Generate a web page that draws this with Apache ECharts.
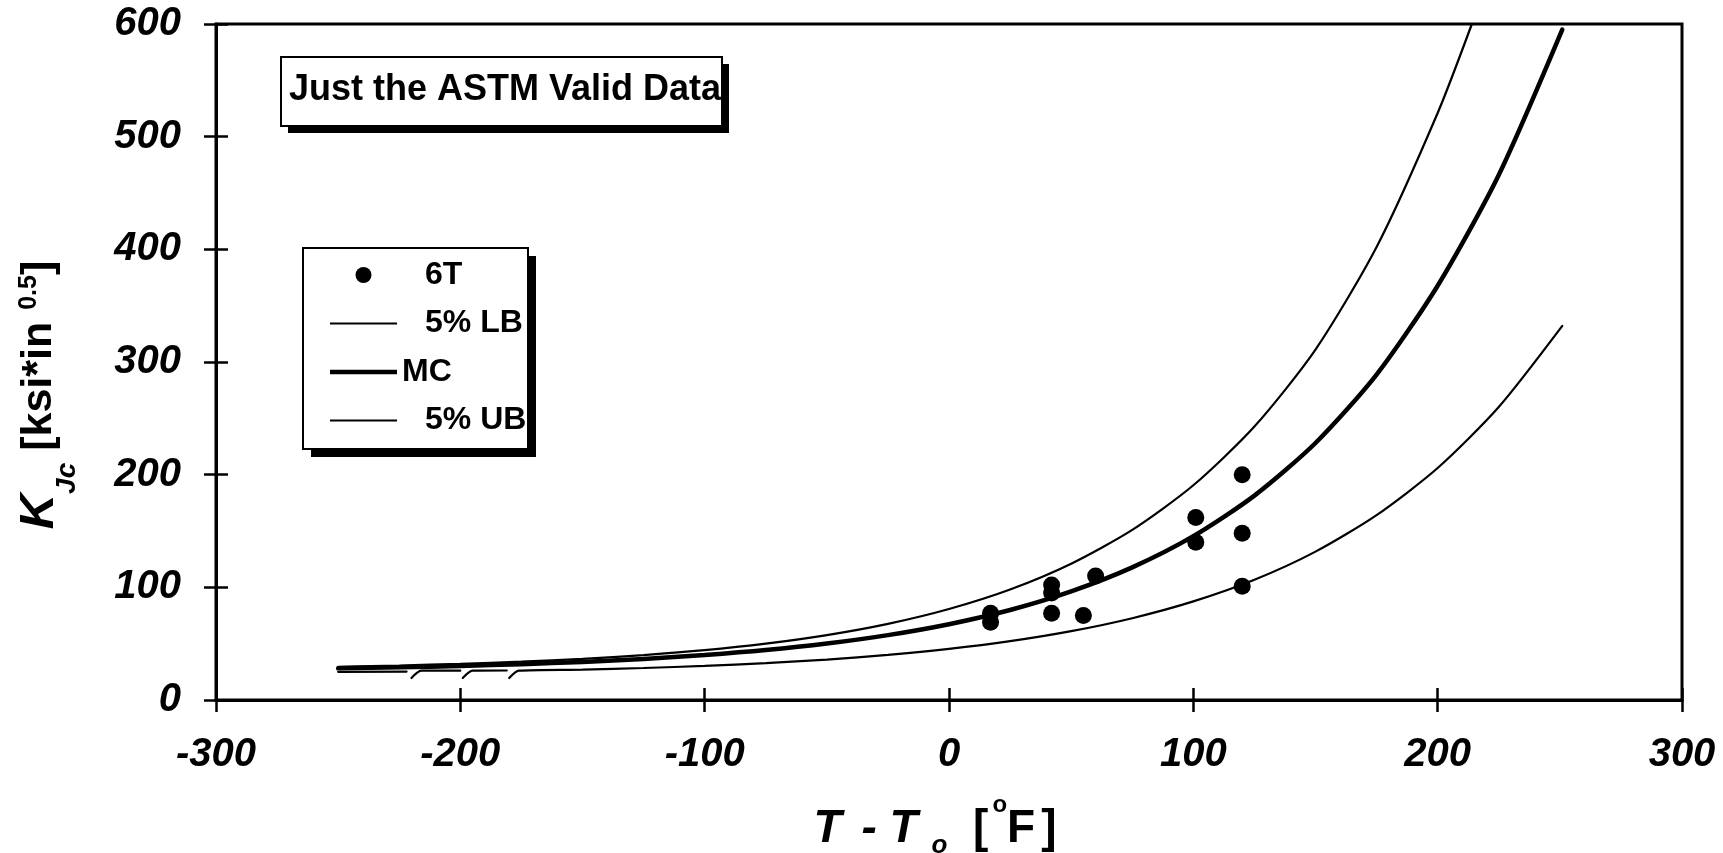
<!DOCTYPE html>
<html>
<head>
<meta charset="utf-8">
<script src="https://cdn.jsdelivr.net/npm/echarts@6/dist/echarts.min.js"></script>
<style>
  html, body { margin: 0; padding: 0; background: #ffffff; }
  #chart { width: 1723px; height: 853px; }
</style>
</head>
<body>
<div id="chart"></div>
<script>
// KJc fracture toughness of 6T specimens against T - To, with the master curve and its bounds

// axis ranges
const xRange = { min: -300, max: 300, step: 100 };
const yRange = { min: 0, max: 600, step: 100 };

// measured toughness, 6T specimens  [T - To (F), KJc]
const specimen6T = [
  [17, 77], [17, 69],
  [42, 102], [42, 95], [42, 77],
  [55, 75], [60, 110],
  [101, 162], [101, 140],
  [120, 200], [120, 148], [120, 101]
];

// median master curve
const masterCurve = [
  [-250, 28.1], [-225, 29.0], [-200, 30.2], [-175, 31.8], [-150, 33.8], [-125, 36.4],
  [-100, 39.9], [-75, 44.3], [-50, 50.1], [-25, 57.6], [0, 67.3], [25, 79.9],
  [50, 96.4], [75, 117.7], [100, 145.4], [125, 181.4], [150, 228.1], [175, 288.8],
  [200, 367.7], [225, 466], [251, 595]
];

// upper tolerance bound
const upperBound = [
  [-250, 29.5], [-225, 30.6], [-200, 32.1], [-175, 34.0], [-150, 36.5], [-125, 39.9],
  [-100, 44.2], [-75, 50.0], [-50, 57.6], [-25, 67.6], [0, 80.8], [25, 98.1],
  [50, 121], [75, 151], [100, 190.6], [125, 242.7], [150, 311], [175, 402],
  [200, 521], [214, 600]
];

// lower tolerance bound ('-' breaks the line where it restarts)
const lowerBound = [
  [-250, 25.0], [-222, 25.2], [-221, '-'],
  [-220, 19.5], [-216, 26.0], [-200, 26.0], [-199.5, '-'],
  [-199, 19.5], [-195, 26.0], [-181, 26.2], [-180.5, '-'],
  [-180, 19.5], [-176, 26.0], [-150, 26.9], [-125, 28.4], [-100, 30.3],
  [-75, 32.7], [-50, 35.9], [-25, 40.0], [0, 45.3], [25, 52.2], [50, 61.1],
  [75, 72.6], [100, 87.5], [125, 106.7], [150, 131.7], [175, 164.1],
  [200, 205.9], [225, 260], [251, 332]
];

const seriesNames = ['6T', '5% LB', 'MC', '5% UB'];
const titleText = 'Just the ASTM Valid Data';

const FONT = 'Liberation Sans, Arial, sans-serif';
const INK = '#000000';

const chart = echarts.init(document.getElementById('chart'), null, { renderer: 'canvas' });

const tickLabel = {
  fontFamily: FONT, fontSize: 40, fontWeight: 'bold', fontStyle: 'italic', color: INK, margin: 35
};

function boxWithShadow(x, y, w, h, off) {
  return [
    { type: 'rect', z: 3, shape: { x: x + off, y: y + off, width: w, height: h },
      style: { fill: INK, stroke: null } },
    { type: 'rect', z: 3, shape: { x: x, y: y, width: w, height: h },
      style: { fill: '#ffffff', stroke: INK, lineWidth: 2 } }
  ];
}

const bold = { fontFamily: FONT, fontWeight: 'bold', color: INK };

const option = {
  animation: false,
  backgroundColor: '#ffffff',
  grid: {
    left: 216, right: 41, top: 24, bottom: 153,
    containLabel: false, outerBoundsMode: 'none',
    show: true, borderColor: INK, borderWidth: 3, backgroundColor: 'transparent'
  },
  title: {
    text: titleText,
    left: 289, top: 70, padding: 0, z: 10,
    textStyle: { fontFamily: FONT, fontSize: 36, fontWeight: 'bold', color: INK, lineHeight: 40 }
  },
  graphic: [
    ...boxWithShadow(281, 57, 441, 69, 7),
    ...boxWithShadow(303, 248, 225, 201, 8)
  ],
  legend: {
    orient: 'vertical',
    left: 330, top: 258, padding: 0, z: 10,
    itemWidth: 67, itemHeight: 16, itemGap: 14.5,
    selectedMode: false,
    formatter: function (name) {
      return name === 'MC' ? '{t|' + name + '}' : '{p| }{t|' + name + '}';
    },
    textStyle: {
      fontFamily: FONT, fontSize: 32, fontWeight: 'bold', color: INK, lineHeight: 34,
      rich: {
        p: { width: 23, fontSize: 32 },
        t: { fontFamily: FONT, fontSize: 32, fontWeight: 'bold', color: INK, lineHeight: 34 }
      }
    },
    data: [
      { name: seriesNames[0], icon: 'circle' },
      { name: seriesNames[1], icon: 'path://M0,0H67V2.2H0Z' },
      { name: seriesNames[2], icon: 'path://M0,0H67V4.5H0Z' },
      { name: seriesNames[3], icon: 'path://M0,0H67V2.2H0Z' }
    ]
  },
  xAxis: [
    {
      type: 'value', min: xRange.min, max: xRange.max, interval: xRange.step,
      position: 'bottom',
      axisLine: { onZero: false, lineStyle: { color: INK, width: 3 } },
      axisTick: { show: true, inside: false, length: 12, lineStyle: { color: INK, width: 2.5 } },
      axisLabel: tickLabel,
      splitLine: { show: false },
      name: '{i|T }{g3| }{i|- T}{g| }{sub|o}{u|  [}{g2| }{sup|o}{u|F}{g4| }{u|]}',
      nameLocation: 'middle', nameGap: 93,
      nameTextStyle: {
        fontFamily: FONT, color: INK, padding: [0, 28, 0, 0],
        rich: {
          i: Object.assign({ fontSize: 46, fontStyle: 'italic', lineHeight: 72 }, bold),
          g: { width: 14, fontSize: 10, lineHeight: 10 },
          g3: { width: 7, fontSize: 10, lineHeight: 10 },
          g4: { width: 6, fontSize: 10, lineHeight: 10 },
          sub: Object.assign({ fontSize: 26, fontStyle: 'italic', lineHeight: 40, verticalAlign: 'bottom', padding: [0, 0, 6, 0] }, bold),
          u: Object.assign({ fontSize: 46, lineHeight: 72 }, bold),
          g2: { width: 4, fontSize: 10, lineHeight: 10 },
          sup: Object.assign({ fontSize: 24, lineHeight: 24, verticalAlign: 'top' }, bold)
        }
      }
    },
    {
      type: 'value', min: xRange.min, max: xRange.max, interval: xRange.step,
      position: 'bottom',
      axisLine: { show: false, onZero: false },
      axisTick: { show: true, inside: true, length: 12, lineStyle: { color: INK, width: 2.5 } },
      axisLabel: { show: false },
      splitLine: { show: false }
    }
  ],
  yAxis: [
    {
      type: 'value', min: yRange.min, max: yRange.max, interval: yRange.step,
      position: 'left',
      axisLine: { onZero: false, lineStyle: { color: INK, width: 3 } },
      axisTick: { show: true, inside: false, length: 12, lineStyle: { color: INK, width: 2.5 } },
      axisLabel: tickLabel,
      splitLine: { show: false },
      name: '{k|K}{sub|Jc}{u| [ksi*in }{sup|0.5}{u|]}',
      nameLocation: 'middle', nameRotate: 90, nameGap: 135,
      nameTextStyle: {
        fontFamily: FONT, color: INK, padding: [0, 66, 0, 0],
        rich: {
          k: Object.assign({ fontSize: 49, fontStyle: 'italic', lineHeight: 84 }, bold),
          sub: Object.assign({ fontSize: 28, fontStyle: 'italic', lineHeight: 28, verticalAlign: 'bottom' }, bold),
          u: Object.assign({ fontSize: 43, lineHeight: 84 }, bold),
          sup: Object.assign({ fontSize: 25, lineHeight: 25, verticalAlign: 'top', padding: [20, 0, 0, 0] }, bold)
        }
      }
    },
    {
      type: 'value', min: yRange.min, max: yRange.max, interval: yRange.step,
      position: 'left',
      axisLine: { show: false, onZero: false },
      axisTick: { show: true, inside: true, length: 12, lineStyle: { color: INK, width: 2.5 } },
      axisLabel: { show: false },
      splitLine: { show: false }
    }
  ],
  series: [
    {
      name: seriesNames[0], type: 'scatter', data: specimen6T,
      symbol: 'circle', symbolSize: 17, z: 5,
      itemStyle: { color: INK, opacity: 1 }
    },
    {
      name: seriesNames[1], type: 'line', data: lowerBound,
      showSymbol: false, symbol: 'none', smooth: 0.25, connectNulls: false,
      lineStyle: { color: INK, width: 2.2, cap: 'round' }, itemStyle: { color: INK }
    },
    {
      name: seriesNames[2], type: 'line', data: masterCurve,
      showSymbol: false, symbol: 'none', smooth: 0.25,
      lineStyle: { color: INK, width: 4.5, cap: 'round' }, itemStyle: { color: INK }
    },
    {
      name: seriesNames[3], type: 'line', data: upperBound,
      showSymbol: false, symbol: 'none', smooth: 0.25,
      lineStyle: { color: INK, width: 2.2, cap: 'round' }, itemStyle: { color: INK }
    }
  ]
};

chart.setOption(option);
</script>
</body>
</html>
